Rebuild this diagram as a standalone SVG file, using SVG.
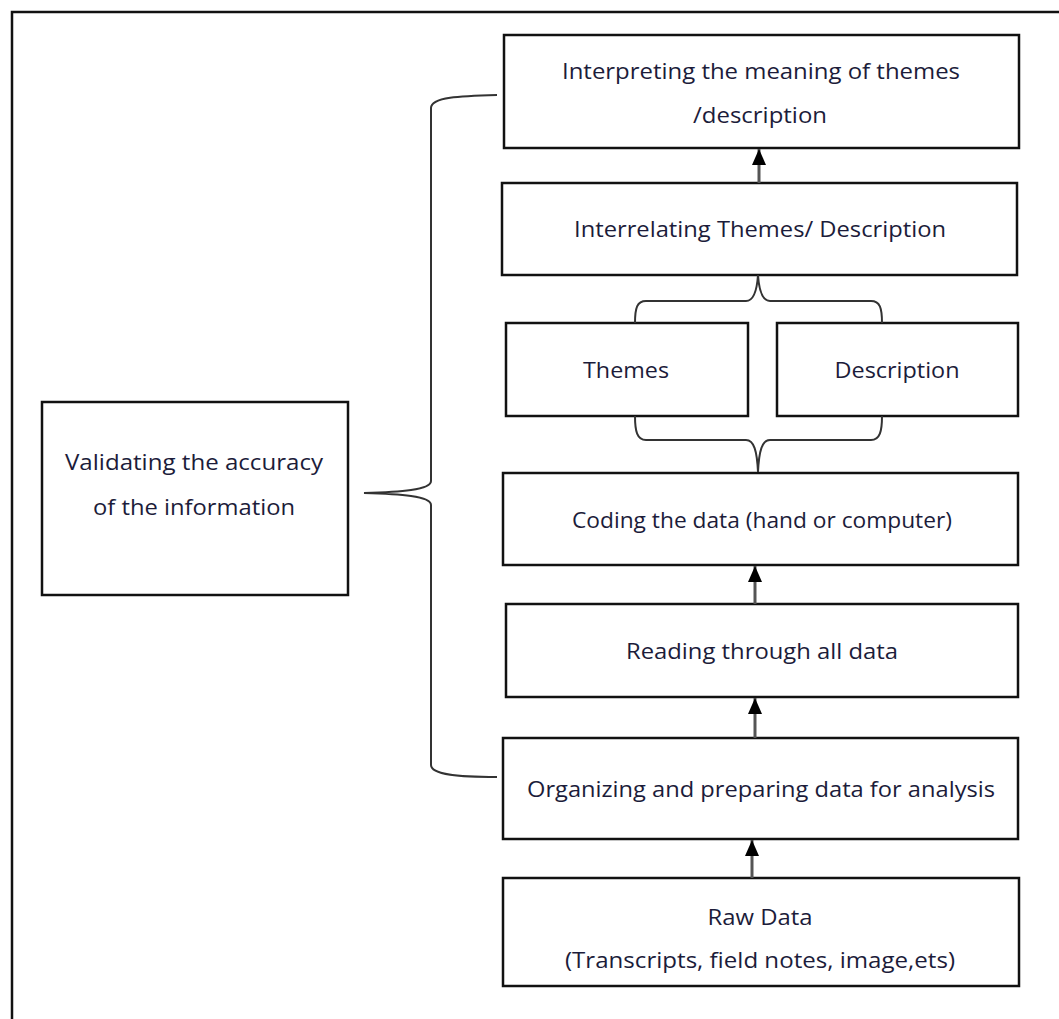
<svg xmlns="http://www.w3.org/2000/svg" width="1059" height="1019" viewBox="0 0 1059 1019">
<style>
.box{fill:#fff;stroke:#111;stroke-width:2.5}
.t{font-family:"Open Sans","Liberation Sans",sans-serif;font-size:22px;font-weight:500;fill:#1c1c3a;text-anchor:middle}
.br{fill:none;stroke:#333;stroke-width:2}
.ar{stroke:#555;stroke-width:3}
.ah{fill:#000}
</style>
<rect width="1059" height="1019" fill="#fff"/>
<path d="M12,1019 V12 H1059" fill="none" stroke="#111" stroke-width="2.5"/>
<g id="interpreting"><rect class="box" x="504" y="35" width="515" height="113"/>
<text class="t" x="761" y="79" textLength="398" lengthAdjust="spacingAndGlyphs">Interpreting the meaning of themes</text>
<text class="t" x="760" y="123" textLength="134" lengthAdjust="spacingAndGlyphs">/description</text></g>
<g id="interrelating"><rect class="box" x="502" y="183" width="515" height="92"/>
<text class="t" x="760" y="237" textLength="372" lengthAdjust="spacingAndGlyphs">Interrelating Themes/ Description</text></g>
<g id="themes"><rect class="box" x="506" y="323" width="242" height="93"/>
<text class="t" x="626" y="378" textLength="86" lengthAdjust="spacingAndGlyphs">Themes</text></g>
<g id="description"><rect class="box" x="777" y="323" width="241" height="93"/>
<text class="t" x="897" y="378" textLength="125" lengthAdjust="spacingAndGlyphs">Description</text></g>
<g id="coding"><rect class="box" x="503" y="473" width="515" height="92"/>
<text class="t" x="762" y="528" textLength="380" lengthAdjust="spacingAndGlyphs">Coding the data (hand or computer)</text></g>
<g id="reading"><rect class="box" x="506" y="604" width="512" height="93"/>
<text class="t" x="762" y="659" textLength="272" lengthAdjust="spacingAndGlyphs">Reading through all data</text></g>
<g id="organizing"><rect class="box" x="503" y="738" width="515" height="101"/>
<text class="t" x="761" y="797" textLength="468" lengthAdjust="spacingAndGlyphs">Organizing and preparing data for analysis</text></g>
<g id="raw"><rect class="box" x="503" y="878" width="516" height="108"/>
<text class="t" x="760" y="925" textLength="105" lengthAdjust="spacingAndGlyphs">Raw Data</text>
<text class="t" x="760" y="968" textLength="390" lengthAdjust="spacingAndGlyphs">(Transcripts, field notes, image,ets)</text></g>
<g id="validating"><rect class="box" x="42" y="402" width="306" height="193"/>
<text class="t" x="194" y="470" textLength="258" lengthAdjust="spacingAndGlyphs">Validating the accuracy</text>
<text class="t" x="194" y="515" textLength="202" lengthAdjust="spacingAndGlyphs">of the information</text></g>
<g id="connectors">
<path class="br" d="M497,95 C460,96 431,97 431,108 L431,481 C431,490 400,492 364,493 C400,494 431,496 431,505 L431,765 C431,775 460,777 497,777"/>
<path class="br" d="M635,323 C635,308 637,301 646,301 L746,301 C754,301 757,290 758,275 C759,290 762,301 770,301 L871,301 C880,301 882,308 882,323"/>
<path class="br" d="M635,416 C635,431 637,440 646,440 L746,440 C754,440 757,451 758,472 C759,451 762,440 770,440 L871,440 C880,440 882,431 882,416"/>
<line class="ar" x1="759" y1="183" x2="759" y2="149"/>
<line class="ar" x1="755" y1="604" x2="755" y2="566"/>
<line class="ar" x1="755" y1="738" x2="755" y2="698"/>
<line class="ar" x1="752" y1="878" x2="752" y2="840"/>
<path class="ah" d="M752,165 L759,149 L766,165 Z"/>
<path class="ah" d="M748,582 L755,566 L762,582 Z"/>
<path class="ah" d="M748,714 L755,698 L762,714 Z"/>
<path class="ah" d="M745,856 L752,840 L759,856 Z"/>
</g>
</svg>
